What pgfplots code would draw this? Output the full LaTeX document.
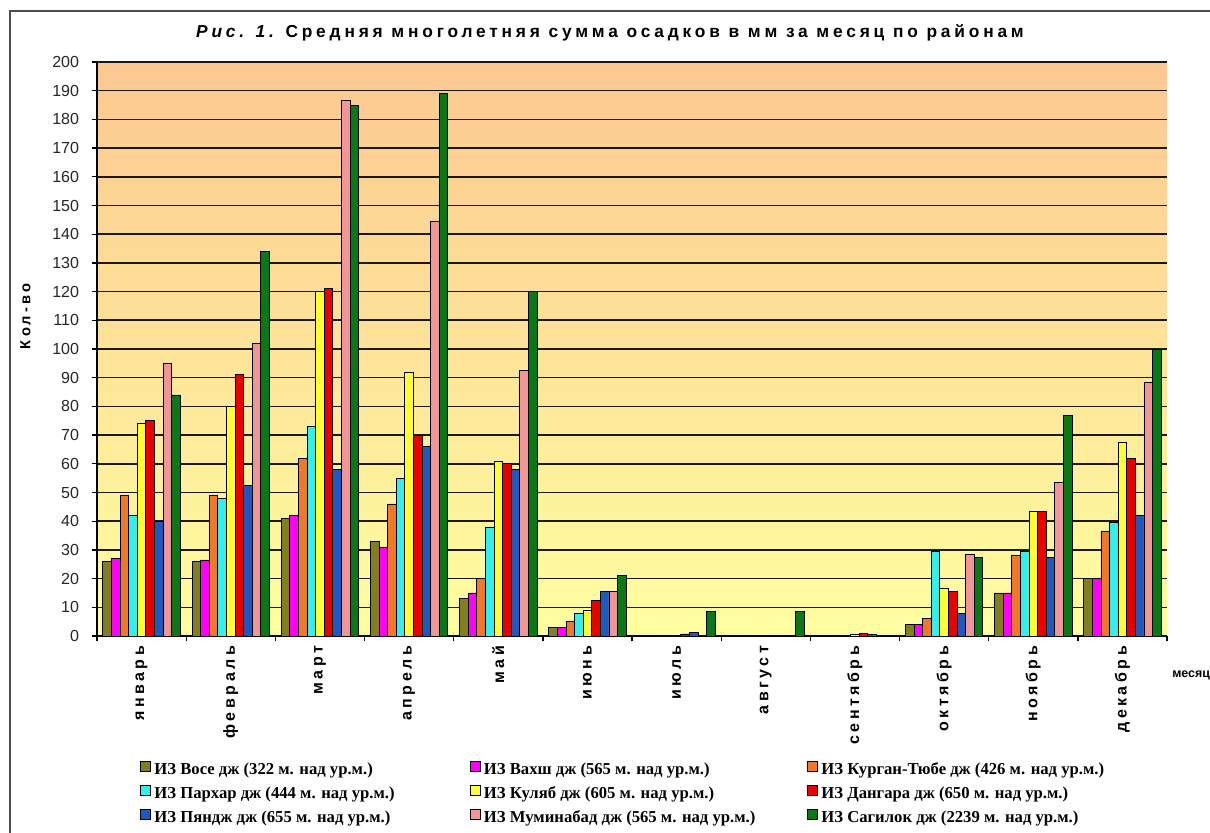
\documentclass[border=0pt]{standalone}
\usepackage{fontspec}
\setmainfont{Liberation Sans}
\newfontfamily\serifb{Liberation Serif}
\usepackage{pgfplots}
\usepackage{pgfplotstable}
\pgfplotsset{compat=1.18}
\definecolor{cVose}{RGB}{128,128,32}
\definecolor{cVakhsh}{RGB}{255,0,255}
\definecolor{cKurgan}{RGB}{240,120,40}
\definecolor{cParkhar}{RGB}{50,240,240}
\definecolor{cKulyab}{RGB}{255,255,50}
\definecolor{cDangara}{RGB}{235,0,0}
\definecolor{cPyandzh}{RGB}{30,90,190}
\definecolor{cMumin}{RGB}{240,150,150}
\definecolor{cSagilok}{RGB}{10,120,20}
\definecolor{bgtop}{RGB}{252,200,145}
\definecolor{bgbot}{RGB}{255,255,160}

\newcommand{\legtext}[2][237pt]{\makebox[#1][l]{\hspace{1.5pt}\serifb\bfseries\fontsize{12.5}{13}\selectfont\rule[-5pt]{0pt}{19.5pt}#2}}

\pgfplotstableread{
m  a    b    c    d    e    f    g    h     i
0  26   27   49   42   74   75   40   95    84
1  26   26.5 49   48   80   91   52.5 102   134
2  41   42   62   73   120  121  58   186.5 185
3  33   31   46   55   92   70   66   144.5 189
4  13   15   20   38   61   60   58   92.5  120
5  3    3    5    8    9    12.5 15.5 15.5  21
6  0    0    0    0    0    0.7  1.3  0     8.5
7  0    0    0    0    0    0    0    0     8.5
8  0    0    0    0    0.7  1    0.7  0     0
9  4    4    6    29.5 16.5 15.5 8    28.5  27.5
10 15   15   28   29.5 43.5 43.5 27.5 53.5  77
11 20   20   36.5 39.5 67.5 62   42   88.5  100
}\data

\pgfplotsset{
  sq/.style={fill=#1, draw=black, line width=0.6pt,
    legend image code/.code={\draw[fill=#1,draw=black,line width=0.6pt] (0pt,-3.8pt) rectangle (7.5pt,3.8pt);}}
}

\begin{document}
\begin{tikzpicture}
\path[use as bounding box] (0,0) rectangle (907.5pt,624pt);
\fill[white] (0,0) rectangle (907.5pt,624pt);
\draw[line width=1.5pt, black!70] (7.5pt,-5pt) -- (7.5pt,615.75pt) -- (915pt,615.75pt);
\node[anchor=center, font=\bfseries\fontsize{13}{15}\selectfont\addfontfeature{LetterSpace=22}] at (457.5pt,599pt)
  {{\itshape Рис. 1.} Средняя многолетняя сумма осадков в мм за месяц по районам};
\begin{axis}[
  at={(72.75pt,147pt)}, anchor=south west,
  width=802.5pt, height=430.5pt, scale only axis,
  ymin=0, ymax=200, ytick={0,10,...,200},
  xmin=-0.5, xmax=11.5,
  xtick={0,...,11},
  xticklabels={январь,февраль,март,апрель,май,июнь,июль,август,сентябрь,октябрь,ноябрь,декабрь},
  minor xtick={-0.5,0.5,...,11.5},
  major x tick style={draw=none},
  minor x tick style={black, line width=1pt},
  y tick style={black, line width=1pt},
  tick align=outside,
  major tick length=4pt, minor tick length=4pt,
  axis x line*=bottom, axis y line*=left,
  axis line style={black, line width=1pt},
  ymajorgrids, grid style={black!90, line width=1.2pt},
  axis background/.style={top color=bgtop, bottom color=bgbot},
  ybar=0pt, bar width=6.45pt,
  /pgf/number format/assume math mode=true,
  yticklabel style={font=\fontsize{12}{12}\selectfont, xshift=-6pt, text=black!85},
  xticklabel style={rotate=90, anchor=east, yshift=0pt, font=\bfseries\fontsize{12}{12}\selectfont\addfontfeature{LetterSpace=22}},
  ylabel={Кол-во},
  ylabel style={at={(axis description cs:-0.067,0.557)}, anchor=center, font=\bfseries\fontsize{11}{11}\selectfont\addfontfeature{LetterSpace=22}},
  xlabel={месяц},
  xlabel style={at={(axis description cs:1.0047,-0.068)}, anchor=west, inner sep=0pt, font=\bfseries\fontsize{9.3}{9.3}\selectfont},
  legend columns=3,
  legend style={at={(axis description cs:0.0402,-0.2055)}, anchor=north west, draw=none, fill=none, inner sep=0pt, nodes={inner sep=1pt}, column sep=0pt, row sep=0pt},
]
\addplot[sq=cVose] table[x=m,y=a]{\data};
\addplot[sq=cVakhsh] table[x=m,y=b]{\data};
\addplot[sq=cKurgan] table[x=m,y=c]{\data};
\addplot[sq=cParkhar] table[x=m,y=d]{\data};
\addplot[sq=cKulyab] table[x=m,y=e]{\data};
\addplot[sq=cDangara] table[x=m,y=f]{\data};
\addplot[sq=cPyandzh] table[x=m,y=g]{\data};
\addplot[sq=cMumin] table[x=m,y=h]{\data};
\addplot[sq=cSagilok] table[x=m,y=i]{\data};
\addlegendentry{\legtext[237pt]{ИЗ Восе дж (322 м. над ур.м.)}}
\addlegendentry{\legtext[243pt]{ИЗ Вахш дж (565 м. над ур.м.)}}
\addlegendentry{\legtext[237pt]{ИЗ Курган-Тюбе дж (426 м. над ур.м.)}}
\addlegendentry{\legtext[237pt]{ИЗ Пархар дж (444 м. над ур.м.)}}
\addlegendentry{\legtext[243pt]{ИЗ Куляб дж (605 м. над ур.м.)}}
\addlegendentry{\legtext[237pt]{ИЗ Дангара дж (650 м. над ур.м.)}}
\addlegendentry{\legtext[237pt]{ИЗ Пяндж дж (655 м. над ур.м.)}}
\addlegendentry{\legtext[243pt]{ИЗ Муминабад дж (565 м. над ур.м.)}}
\addlegendentry{\legtext[237pt]{ИЗ Сагилок дж (2239 м. над ур.м.)}}
\end{axis}
\end{tikzpicture}
\end{document}
